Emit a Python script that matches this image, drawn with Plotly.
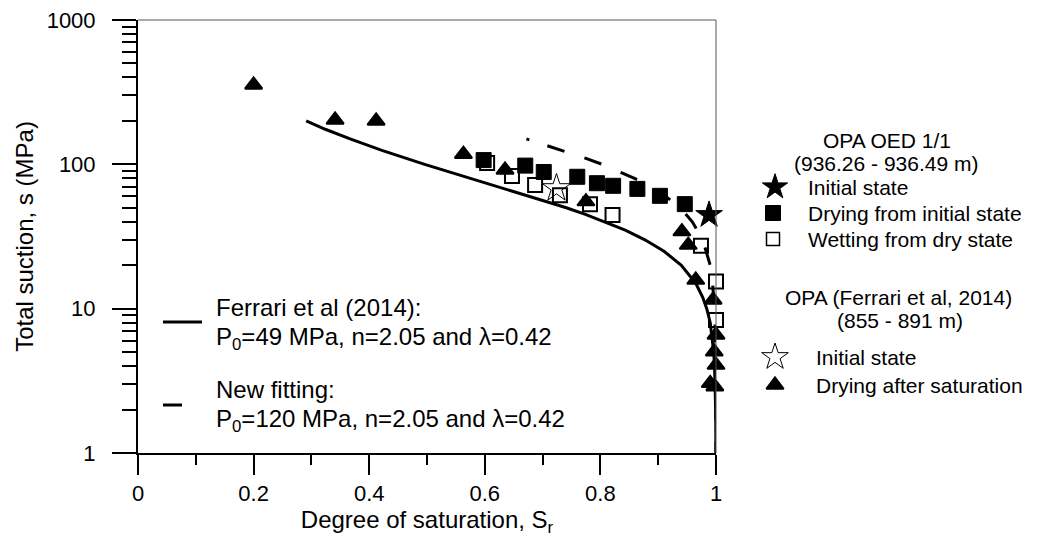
import plotly.graph_objects as go

# ---------------- data ----------------
# Ferrari et al (2014) curve: P0=49 MPa, n=2.05, lambda=0.42
ferrari_s = [200, 175, 150, 125, 100, 90, 80, 70, 60, 50, 45, 40, 35, 30, 25, 20, 15, 12, 10, 8, 6, 5, 4, 3, 2, 1]
ferrari_sr = [0.291, 0.324, 0.367, 0.422, 0.496, 0.533, 0.575, 0.624, 0.679, 0.741, 0.774, 0.808, 0.843, 0.877,
              0.910, 0.940, 0.965, 0.977, 0.984, 0.990, 0.994, 0.996, 0.9975, 0.9986, 0.9994, 0.9999]
# New fitting curve: P0=120 MPa, n=2.05, lambda=0.42
newfit_s = [150, 130, 120, 110, 100, 90, 80, 70, 60, 50, 40, 30, 20, 15, 10, 7, 5, 3, 1]
newfit_sr = [0.672, 0.721, 0.747, 0.775, 0.803, 0.831, 0.859, 0.887, 0.913, 0.938, 0.959, 0.977, 0.990, 0.994,
             0.9974, 0.9988, 0.9994, 0.9998, 0.99995]

# OPA OED 1/1 (936.26 - 936.49 m)
oed_init_sr = [0.988]
oed_init_s = [44.6]
oed_dry_sr = [0.598, 0.670, 0.702, 0.760, 0.794, 0.822, 0.864, 0.903, 0.946]
oed_dry_s = [107, 98, 88.5, 82, 74, 71, 67.6, 60.5, 53]
oed_wet_sr = [0.604, 0.647, 0.687, 0.730, 0.782, 0.821, 0.974, 1.0, 1.0]
oed_wet_s = [102, 83, 72, 61, 53, 44.6, 27.3, 15.4, 8.35]

# OPA (Ferrari et al, 2014) (855 - 891 m)
fer_init_sr = [0.724]
fer_init_s = [68.3]
fer_dry_sr = [0.200, 0.341, 0.412, 0.563, 0.635, 0.775, 0.941, 0.952, 0.965, 0.995, 1.0, 0.997, 1.0, 0.990, 0.998]
fer_dry_s = [355, 203, 200, 117.5, 91.5, 55.2, 34.2, 27.6, 15.8, 11.5, 6.58, 5.03, 4.07, 3.04, 2.88]

x_tickvals = [0, 0.2, 0.4, 0.6, 0.8, 1]
x_ticktext = ["0", "0.2", "0.4", "0.6", "0.8", "1"]
x_minor = [0.1, 0.3, 0.5, 0.7, 0.9]
y_tickvals = [1, 10, 100, 1000]
y_ticktext = ["1", "10", "100", "1000"]
y_minor = [m * d for d in (1, 10, 100) for m in range(2, 10)]

# ---------------- layout geometry ----------------
W, H = 1054, 553
L, R, T, B = 138, 716, 20, 453
FONT = "Arial, Liberation Sans, Helvetica, sans-serif"
FS_TICK = 22
FS_TITLE = 24
FS_LEG_R = 21
FS_LEG_L = 24

# dash pattern: short leading dot, then long dashes
DASH = "3px,19px," + ",".join(["18px,21px"] * 20)

fig = go.Figure()

# curves
fig.add_trace(go.Scatter(x=ferrari_sr, y=ferrari_s, mode="lines",
                         line=dict(color="black", width=3), cliponaxis=False, showlegend=False))
fig.add_trace(go.Scatter(x=newfit_sr, y=newfit_s, mode="lines",
                         line=dict(color="black", width=3, dash=DASH), cliponaxis=False, showlegend=False))
# markers
fig.add_trace(go.Scatter(x=oed_wet_sr, y=oed_wet_s, mode="markers", cliponaxis=False, showlegend=False,
                         marker=dict(symbol="square-open", size=14, color="black", line=dict(width=2, color="black"))))
fig.add_trace(go.Scatter(x=oed_dry_sr, y=oed_dry_s, mode="markers", cliponaxis=False, showlegend=False,
                         marker=dict(symbol="square", size=15, color="black", line=dict(width=1, color="black"))))
fig.add_trace(go.Scatter(x=fer_dry_sr, y=fer_dry_s, mode="markers", cliponaxis=False, showlegend=False,
                         marker=dict(symbol="triangle-up", size=15, color="black", line=dict(width=2, color="black"))))
fig.add_trace(go.Scatter(x=fer_init_sr, y=fer_init_s, mode="markers", cliponaxis=False, showlegend=False,
                         marker=dict(symbol="star-open", size=21, color="black", line=dict(width=1, color="black"))))
fig.add_trace(go.Scatter(x=oed_init_sr, y=oed_init_s, mode="markers", cliponaxis=False, showlegend=False,
                         marker=dict(symbol="star", size=20, color="black", line=dict(width=1, color="black"))))

# ---------- legend glyphs on a pixel-coordinate overlay axis ----------
def leg_marker(x, y, symbol, size, lw=1):
    fig.add_trace(go.Scatter(x=[x], y=[y], xaxis="x2", yaxis="y2", mode="markers", cliponaxis=False,
                             showlegend=False, hoverinfo="skip",
                             marker=dict(symbol=symbol, size=size, color="black",
                                         line=dict(width=lw, color="black"))))

leg_marker(775, 187, "star", 19)
leg_marker(773, 213, "square", 15)
leg_marker(773, 239, "square-open", 13, 1.5)
leg_marker(775, 357, "star-open", 20)
leg_marker(775, 385, "triangle-up", 15, 2)

def txt(x, y, s, anchor="left", size=FS_LEG_R):
    fig.add_annotation(x=x, y=y, xref="x2", yref="y2", text=s, showarrow=False,
                       xanchor=anchor, yanchor="middle", font=dict(family=FONT, size=size, color="black"))

txt(887, 140, "OPA OED 1/1", "center")
txt(886, 163, "(936.26 - 936.49 m)", "center")
txt(806, 187, "Initial state")
txt(806, 213, "Drying from initial state")
txt(806, 239, "Wetting from dry state")
txt(898, 297, "OPA (Ferrari et al, 2014)", "center")
txt(900, 320, "(855 - 891 m)", "center")
txt(814, 357, "Initial state")
txt(814, 385, "Drying after saturation")

txt(214, 307, "Ferrari et al (2014):", size=FS_LEG_L)
txt(214, 338, "P<sub>0</sub>=49 MPa, n=2.05 and λ=0.42", size=FS_LEG_L)
txt(214, 389, "New fitting:", size=FS_LEG_L)
txt(214, 420, "P<sub>0</sub>=120 MPa, n=2.05 and λ=0.42", size=FS_LEG_L)

shapes = [
    dict(type="line", xref="x2", yref="y2", x0=163, x1=202, y0=322, y1=322, line=dict(color="black", width=3)),
    dict(type="line", xref="x2", yref="y2", x0=163, x1=182, y0=405, y1=405, line=dict(color="black", width=3)),
    # thin frame on top and right
    dict(type="line", xref="x2", yref="y2", x0=L, x1=R, y0=T, y1=T, line=dict(color="#555555", width=1)),
    dict(type="line", xref="x2", yref="y2", x0=R, x1=R, y0=T, y1=B, line=dict(color="#555555", width=1)),
]

fig.update_layout(
    width=W, height=H,
    margin=dict(l=0, r=0, t=0, b=0, autoexpand=False),
    paper_bgcolor="white", plot_bgcolor="rgba(0,0,0,0)",
    font=dict(family=FONT, size=FS_TICK, color="black"),
    showlegend=False,
    shapes=shapes,
    xaxis=dict(domain=[L / W, R / W], anchor="y", range=[0, 1], automargin=False,
               tickmode="array", tickvals=x_tickvals, ticktext=x_ticktext,
               ticks="outside", ticklen=20, tickwidth=1.5, tickcolor="black",
               minor=dict(tickmode="array", tickvals=x_minor, ticks="outside", ticklen=10,
                          tickwidth=1.5, tickcolor="black", showgrid=False),
               showline=True, linecolor="black", linewidth=1.5, showgrid=False, zeroline=False,
               tickfont=dict(size=FS_TICK), ticklabelstandoff=0,
               title=dict(text="Degree of saturation, S<sub>r</sub>", font=dict(size=FS_TITLE), standoff=2)),
    yaxis=dict(domain=[(H - B) / H, (H - T) / H], anchor="x", type="log", range=[0, 3], automargin=False,
               tickmode="array", tickvals=y_tickvals, ticktext=y_ticktext,
               ticks="outside", ticklen=24, tickwidth=1.5, tickcolor="black",
               minor=dict(tickmode="array", tickvals=y_minor, ticks="outside", ticklen=14,
                          tickwidth=1.5, tickcolor="black", showgrid=False),
               showline=True, linecolor="black", linewidth=2, showgrid=False, zeroline=False,
               tickfont=dict(size=FS_TICK), ticklabelstandoff=12,
               title=dict(text="Total suction, s (MPa)", font=dict(size=FS_TITLE), standoff=6)),
    xaxis2=dict(domain=[0, 1], anchor="y2", range=[0, W], visible=False, fixedrange=True),
    yaxis2=dict(domain=[0, 1], anchor="x2", range=[H, 0], visible=False, fixedrange=True),
)

fig.write_html("out.html")
